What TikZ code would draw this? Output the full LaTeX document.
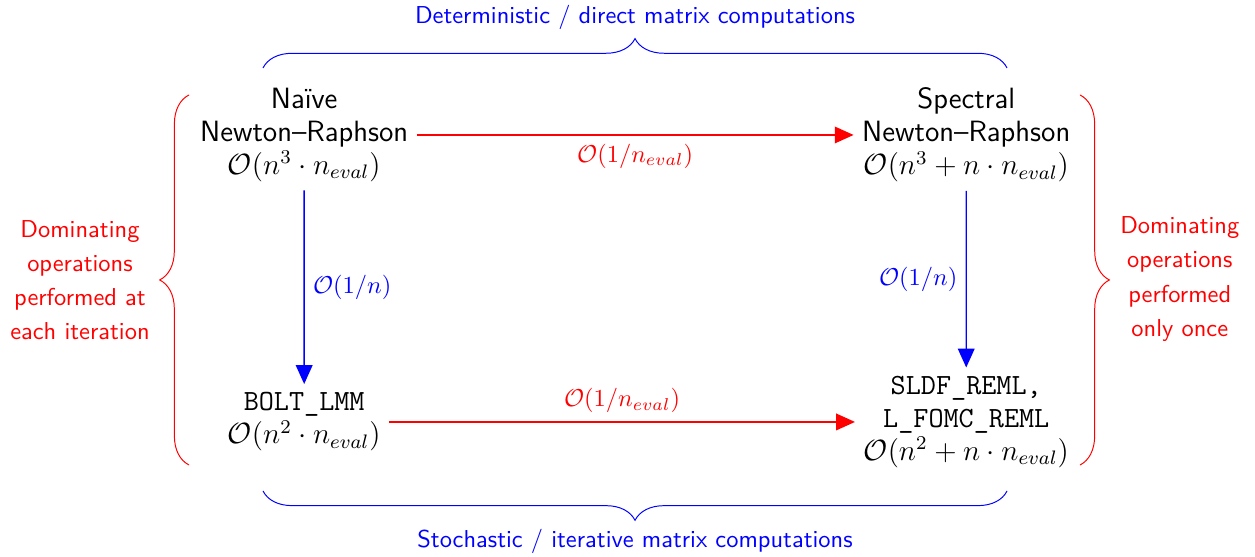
\documentclass[tikz,border=0pt]{standalone}
\usetikzlibrary{positioning,arrows.meta,decorations.pathreplacing}

\begin{document}
\begin{tikzpicture}[scale=0.9655,
  algo/.style={font=\large\sffamily\fontsize{12}{13.5}\selectfont, align=center},
  note/.style={font=\sffamily\fontsize{10}{14}\selectfont, align=center},
  cost/.style={font=\normalsize, midway},
  flow/.style={semithick, -{Triangle[length=7.7pt,width=6.8pt]}},
  bracket/.style={decorate, decoration={brace, amplitude=12pt}}
]
  % Frame
  \useasboundingbox (0,0) rectangle (18.69,8.295);

  % Methods
  \node[algo] (naive) at (4.53,6.285)
    {Na\"{\i}ve\\Newton--Raphson\\$\mathcal{O}(n^3\cdot n_{eval})$};
  \node[algo] (spectral) at (14.39,6.285)
    {Spectral\\Newton--Raphson\\$\mathcal{O}(n^3+n\cdot n_{eval})$};
  \node[algo] (bolt) at (4.53,2.011)
    {\texttt{BOLT\_LMM}\\$\mathcal{O}(n^2\cdot n_{eval})$};
  \node[algo] (sldf) at (14.39,2.011)
    {\texttt{SLDF\_REML,}\\\texttt{L\_FOMC\_REML}\\$\mathcal{O}(n^2+n\cdot n_{eval})$};

  % Speed-ups
  \draw[flow, red] (naive) -- (spectral)
    node[cost, below] {$\mathcal{O}(1/n_{eval})$};
  \draw[flow, red] (bolt) -- (sldf)
    node[cost, above] {$\mathcal{O}(1/n_{eval})$};
  \draw[flow, blue] (naive) -- (bolt)
    node[cost, right] {$\mathcal{O}(1/n)$};
  \draw[flow, blue] (spectral) -- (sldf)
    node[cost, left] {$\mathcal{O}(1/n)$};

  % Braces
  \draw[bracket, blue] (3.917,7.283) -- (14.997,7.283);
  \draw[bracket, blue] (14.997,0.983) -- (3.917,0.983);
  \draw[bracket, red] (2.815,1.370) -- (2.815,6.881);
  \draw[bracket, red] (16.084,6.881) -- (16.084,1.370);

  % Brace labels
  \node[note, blue] (direct) at (9.457,8.042)
    {Deterministic / direct matrix computations};
  \node[note, blue] (iter) at (9.457,0.238)
    {Stochastic / iterative matrix computations};
  \node[note, red] (each) at (1.191,4.125)
    {Dominating\\operations\\performed at\\each iteration};
  \node[note, red] (once) at (17.57,4.14)
    {Dominating\\operations\\performed\\only once};
\end{tikzpicture}
\end{document}
